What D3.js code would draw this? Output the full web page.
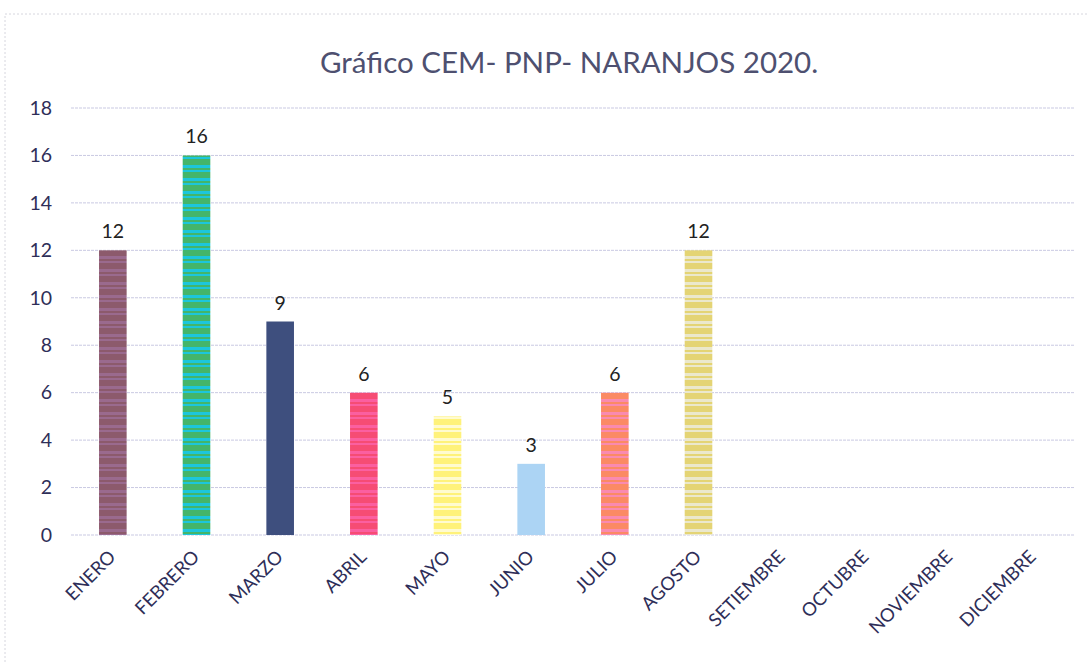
<!DOCTYPE html>
<html>
<head>
<meta charset="utf-8">
<script src="https://cdn.jsdelivr.net/npm/d3@7"></script>
<style>
  body { margin: 0; background: #fff; }
  text { font-family: Lato, "Open Sans", sans-serif; }
</style>
</head>
<body>
<svg width="1088" height="664"></svg>
<script>
  const months = ['ENERO', 'FEBRERO', 'MARZO', 'ABRIL', 'MAYO', 'JUNIO',
    'JULIO', 'AGOSTO', 'SETIEMBRE', 'OCTUBRE', 'NOVIEMBRE', 'DICIEMBRE'];
  const cases = [12, 16, 9, 6, 5, 3, 6, 12, null, null, null, null];
  const yTicks = [0, 2, 4, 6, 8, 10, 12, 14, 16, 18];

  // two tones per bar, scanned print gives them a striped look
  const barTones = [
    ['#8c5a6c', '#9a6a8e'],
    ['#44b56a', '#1cc6dc'],
    ['#3e4f7e', '#3e4f7e'],
    ['#f64c74', '#fb5fa0'],
    ['#fff27a', '#fffbd0'],
    ['#acd4f4', '#acd4f4'],
    ['#fb8a64', '#f98ab0'],
    ['#e4d474', '#ebe8cc']
  ];

  const svg = d3.select('svg');
  const margin = { top: 108, right: 13, bottom: 129, left: 71 };
  const width = 1088 - margin.left - margin.right;
  const height = 664 - margin.top - margin.bottom;

  // faint page border from the scan
  svg.append('rect')
    .attr('x', 5).attr('y', 14)
    .attr('width', 1100).attr('height', 700)
    .attr('fill', 'none')
    .attr('stroke', '#d6d6de')
    .attr('stroke-dasharray', '2,2');

  const defs = svg.append('defs');
  barTones.forEach((t, i) => {
    const p = defs.append('pattern')
      .attr('id', 'stripe' + i)
      .attr('patternUnits', 'userSpaceOnUse')
      .attr('width', 40).attr('height', 13);
    p.append('rect').attr('width', 40).attr('height', 13).attr('fill', t[0]);
    p.append('rect').attr('y', 5).attr('width', 40).attr('height', 3).attr('fill', t[1]);
    p.append('rect').attr('y', 10).attr('width', 40).attr('height', 2).attr('fill', t[1]);
  });

  svg.append('text')
    .attr('x', 320).attr('y', 73)
    .attr('font-size', 29.5)
    .attr('fill', '#4e5070')
    .text('Gráfico CEM- PNP- NARANJOS 2020.');

  const g = svg.append('g')
    .attr('transform', `translate(${margin.left},${margin.top})`);

  const x = d3.scaleBand().domain(months).range([0, width]).paddingInner(0.67).paddingOuter(0.335);
  const y = d3.scaleLinear().domain([0, 18]).range([height, 0]);

  g.selectAll('.grid').data(yTicks)
    .enter().append('line')
      .attr('class', 'grid')
      .attr('x1', 0).attr('x2', width)
      .attr('y1', d => y(d)).attr('y2', d => y(d))
      .attr('stroke', '#c9c9e2')
      .attr('stroke-width', 1)
      .attr('stroke-dasharray', '3,1');

  g.selectAll('.ytick').data(yTicks)
    .enter().append('text')
      .attr('class', 'ytick')
      .attr('x', -19)
      .attr('y', d => y(d))
      .attr('dy', '0.35em')
      .attr('text-anchor', 'end')
      .attr('font-size', 19.5)
      .attr('fill', '#2e2e58')
      .text(d => d);

  const bars = months.map((m, i) => ({ m, v: cases[i], i })).filter(d => d.v != null);

  g.selectAll('.bar').data(bars)
    .enter().append('rect')
      .attr('class', 'bar')
      .attr('x', d => x(d.m))
      .attr('y', d => y(d.v))
      .attr('width', x.bandwidth())
      .attr('height', d => y(0) - y(d.v))
      .attr('fill', d => `url(#stripe${d.i})`);

  g.selectAll('.val').data(bars)
    .enter().append('text')
      .attr('class', 'val')
      .attr('x', d => x(d.m) + x.bandwidth() / 2)
      .attr('y', d => y(d.v) - 12)
      .attr('text-anchor', 'middle')
      .attr('font-size', 19.5)
      .attr('fill', '#222')
      .text(d => d.v);

  g.selectAll('.xlab').data(months)
    .enter().append('text')
      .attr('class', 'xlab')
      .attr('transform', d => `translate(${x(d) + x.bandwidth() / 2 + 4},${height + 23}) rotate(-45)`)
      .attr('text-anchor', 'end')
      .attr('font-size', 18.5)
      .attr('fill', '#2e2e58')
      .text(d => d);
</script>
</body>
</html>
